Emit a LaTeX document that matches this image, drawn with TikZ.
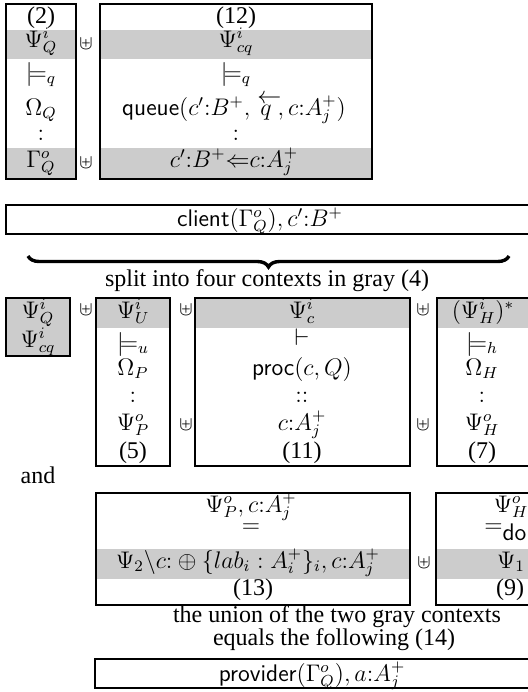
\documentclass[tikz,border=0pt]{standalone}
\usepackage{fontspec}
\setmainfont{Liberation Serif}
\usetikzlibrary{decorations.pathreplacing}
\definecolor{cellgray}{RGB}{204,204,204}
\begin{document}
\begin{tikzpicture}[x=0.5pt,y=-0.5pt,
  every node/.style={font=\fontsize{12}{14}\selectfont, inner sep=0pt},
  t/.style={anchor=base},
  box/.style={draw=black, line width=0.6pt},
  gr/.style={fill=cellgray},
  un/.style={font=\fontsize{10}{12}\selectfont}]
\useasboundingbox (0,0) rectangle (528,692);
\clip (0,0) rectangle (528,692);

% ---------- gray fills ----------
\fill[gr] (6,30) rectangle (76,59);
\fill[gr] (6,148) rectangle (76,179);
\fill[gr] (100,30) rectangle (372,59);
\fill[gr] (100,148) rectangle (372,179);
\fill[gr] (6,298) rectangle (70,356);
\fill[gr] (96,298) rectangle (170,328);
\fill[gr] (195,298) rectangle (410,328);
\fill[gr] (437,298) rectangle (560,328);
\fill[gr] (96,549) rectangle (410,579);
\fill[gr] (436,549) rectangle (560,579);

% ---------- boxes ----------
\draw[box] (6,4) rectangle (76,179);
\draw[box] (100,4) rectangle (372,179);
\draw[box] (6,205) rectangle (560,234);
\draw[box] (6,298) rectangle (70,356);
\draw[box] (96,298) rectangle (170,466);
\draw[box] (195,298) rectangle (410,466);
\draw[box] (437,298) rectangle (560,466);
\draw[box] (96,493) rectangle (410,605);
\draw[box] (436,493) rectangle (560,605);
\draw[box] (95,659) rectangle (560,688);

% ---------- top row ----------
\node[t] (l2) at (41,23) {(2)};
\node[t] (lpsiq) at (41,47) {$\Psi_Q^i$};
\node[t] (lmq) at (41,80) {$\models_q$};
\node[t] (lomq) at (41,115) {$\Omega_Q$};
\node[t] (lcol) at (41,140) {$:$};
\node[t] (lgam) at (41,167) {$\Gamma_Q^o$};
\node[un] (u1) at (86,44) {$\uplus$};
\node[un] (u2) at (86,163) {$\uplus$};
\node[t] (l12) at (236,23) {(12)};
\node[t] (psicq) at (236,47) {$\Psi_{cq}^i$};
\node[t] (mq2) at (236,80) {$\models_q$};
\node[t] (queue) at (234,115) {$\textsf{queue}(c'{:}B^+,\ \makebox[0pt][l]{\hspace{-1.5pt}\raisebox{6pt}{$\leftarrow$}}q\ , c{:}A_j^+)$};
\node[t] (col2) at (236,140) {$:$};
\node[t] (cb) at (234,167) {$c'{:}B^+{\Leftarrow}c{:}A_j^+$};

% ---------- client ----------
\node[t] (client) at (260,226) {$\textsf{client}(\Gamma_Q^o), c'{:}B^+$};

% ---------- brace ----------
\coordinate (bl) at (28,256);
\coordinate (br) at (509,256);
\draw[decorate, decoration={brace, amplitude=5.5pt, mirror}, line width=1.7pt] (bl) -- (br);
\node[t] (split) at (267,286) {split into four contexts in gray (4)};

% ---------- second row ----------
\node[t] (g1) at (38,318) {$\Psi_Q^i$};
\node[t] (g2) at (38,347) {$\Psi_{cq}^i$};
\node[un] (u3) at (86,310) {$\uplus$};

\node[t] (pu) at (133,318) {$\Psi_U^i$};
\node[t] (mu) at (133,350) {$\models_u$};
\node[t] (op) at (133,375) {$\Omega_P$};
\node[t] (cu) at (133,402) {$:$};
\node[t] (pop) at (133,430) {$\Psi_P^o$};
\node[t] (l5) at (133,458) {(5)};
\node[un] (u4) at (186,310) {$\uplus$};
\node[un] (u5) at (186,425) {$\uplus$};

\node[t] (pc) at (302,318) {$\Psi_c^i$};
\node[t] (vd) at (302,345) {$\vdash$};
\node[t] (proc) at (302,375) {$\textsf{proc}(c,Q)$};
\node[t] (cc) at (302,402) {$::$};
\node[t] (ca) at (302,430) {$c{:}A_j^+$};
\node[t] (l11) at (302,458) {(11)};
\node[un] (u6) at (423,310) {$\uplus$};
\node[un] (u7) at (423,425) {$\uplus$};

\node[t] (ph) at (483,318) {$(\Psi_H^i)^*$};
\node[t] (mh) at (482,350) {$\models_h$};
\node[t] (oh) at (482,375) {$\Omega_H$};
\node[t] (ch) at (482,402) {$:$};
\node[t] (poh) at (482,430) {$\Psi_H^o$};
\node[t] (l7) at (482,458) {(7)};

\node[t] (and) at (38,483) {and};

% ---------- third row ----------
\node[t] (r1) at (251,512) {$\Psi_P^o, c{:}A_j^+$};
\node[t] (r2) at (251,532) {$=$};
\node[t] (r3) at (248,568) {$\Psi_2\backslash c{:}\oplus\{lab_i : A_i^+\}_i, c{:}A_j^+$};
\node[t] (l13) at (253,595) {(13)};
\node[un] (u8) at (424,563) {$\uplus$};

\node[t] (e1) at (511,512) {$\Psi_H^o$};
\node[t, anchor=base west] (e2) at (484,532) {$=_{\textsf{dom}}$};
\node[t] (e3) at (511,568) {$\Psi_1$};
\node[t] (l9) at (510,595) {(9)};

\node[t] (union) at (337,622) {the union of the two gray contexts};
\node[t] (equals) at (334,645) {equals the following (14)};
\node[t] (prov) at (312,681) {$\textsf{provider}(\Gamma_Q^o), a{:}A_j^+$};
\end{tikzpicture}
\end{document}
